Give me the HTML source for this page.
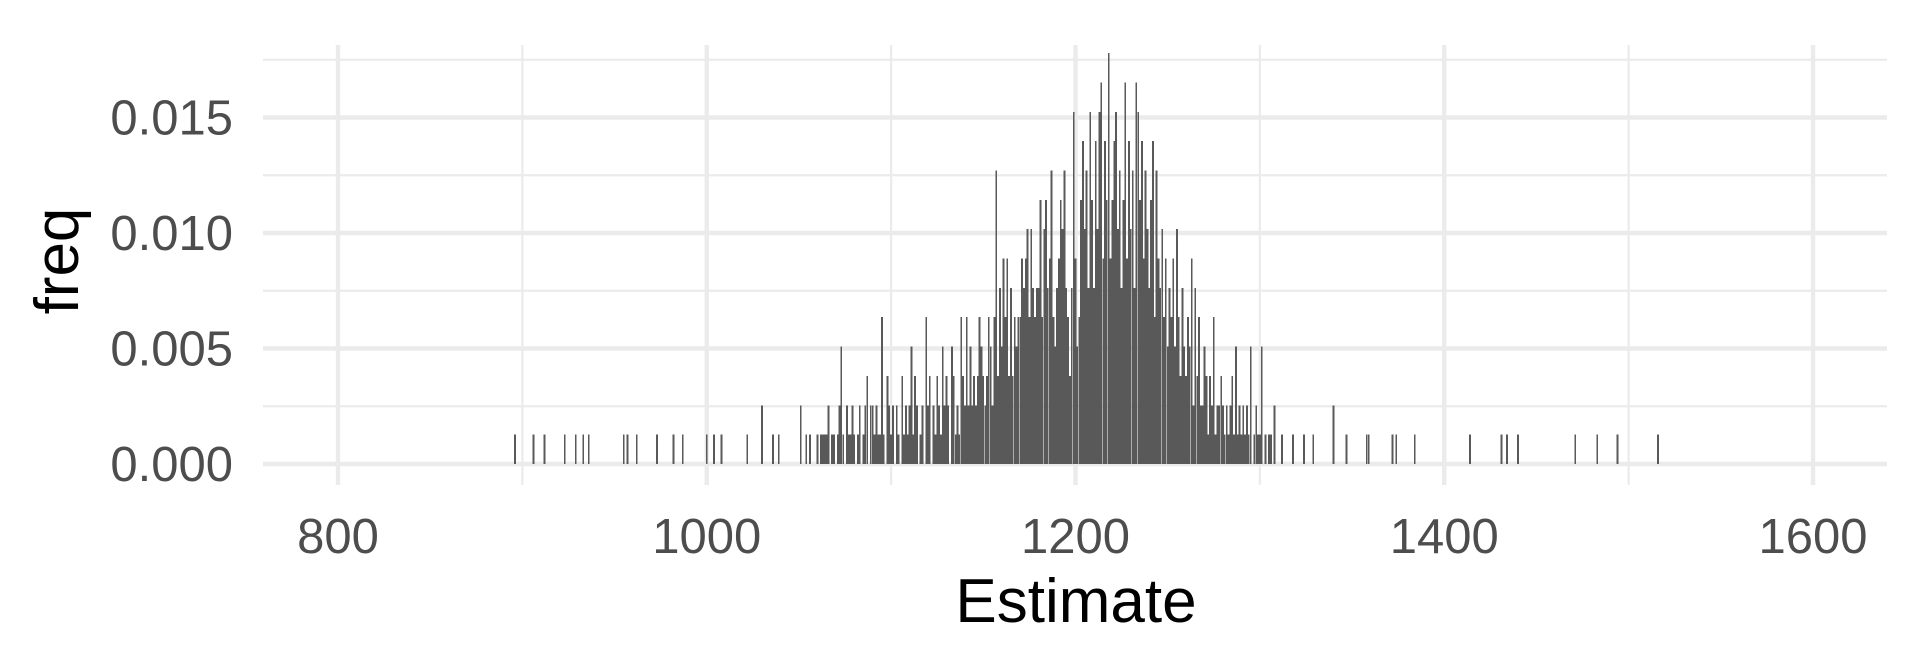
<!DOCTYPE html>
<html><head><meta charset="utf-8"><style>
html,body{margin:0;padding:0;background:#fff}
svg{display:block}
text{font-family:"Liberation Sans",Arial,sans-serif}
</style></head><body>
<svg id="chart" width="1920" height="672" xmlns="http://www.w3.org/2000/svg">
<g id="grid"></g>
<g id="bars" shape-rendering="crispEdges"></g>
<g id="axes"></g>
<text x="1076" y="622" text-anchor="middle" font-size="62" fill="#000">Estimate</text>
<text transform="translate(78,261) rotate(-90)" text-anchor="middle" font-size="62" fill="#000">freq</text>
</svg>
<script>
const N = 787;
const centerStart = 1060;
const centerCounts = "1011112011"+"0124102112"+"1012012302"+"2121151032"+"1202103121"+"2413201205"+"2302132142"+"3204312153"+"2524232354"+"3235425a36"+"4757363545"+"5767858656"+"6958967a54"+"6798a6536c"+"7459b8a6c9"+"6b8cd7b9e7"+"9bc8a69d7b"+"8a6dc9b7a8"+"69b5a76857"+"4657485364"+"3547263522"+"4313251223"+"2121231412"+"1212140121"+"1401011020";
const tailValues = [896,906,912,923,929,933,936,955,957,962,973,982,987,1000,1004,1008,1022,1030,1036,1039,1051,1054,1056,1312,1318,1324,1329,1340,1347,1358,1359,1372,1374,1384,1414,1431,1434,1440,1471,1483,1494,1516];
const tailCounts = [1,1,1,1,1,1,1,1,1,1,1,1,1,1,1,1,1,2,1,1,2,1,1,1,1,1,1,2,1,1,1,1,1,1,1,1,1,1,1,1,1,1];
const xTicks = [800,1000,1200,1400,1600];
const xMinor = [900,1100,1300,1500];
const yTicks = [0,0.005,0.010,0.015];
const yTickLabels = ["0.000","0.005","0.010","0.015"];
const yMinor = [0.0025,0.0075,0.0125,0.0175];

const NS="http://www.w3.org/2000/svg";
const X = v => 338 + (v-800)*1.84375;
const Y = f => 464 - f*23100;
const PL=263, PR=1887, PT=45, PB=485;
function mk(tag, attrs, parent){const e=document.createElementNS(NS,tag);for(const k in attrs)e.setAttribute(k,attrs[k]);parent.appendChild(e);return e;}
const grid=document.getElementById('grid'), bars=document.getElementById('bars'), axes=document.getElementById('axes');
yMinor.forEach(v=>{const l=mk('line',{x1:PL,x2:PR,y1:Y(v),y2:Y(v),stroke:'#ebebeb','stroke-width':2.2},grid);

});
xMinor.forEach(v=>{const l=mk('line',{x1:X(v),x2:X(v),y1:PT,y2:PB,stroke:'#ebebeb','stroke-width':2.2},grid);

});
yTicks.forEach((v,i)=>{const l=mk('line',{x1:PL,x2:PR,y1:Y(v),y2:Y(v),stroke:'#ebebeb','stroke-width':4.4},grid);


const t=mk('text',{x:233,y:Y(v)+17,'text-anchor':'end','font-size':49,fill:'#4d4d4d'},axes);t.textContent=yTickLabels[i];

});
xTicks.forEach(v=>{const l=mk('line',{x1:X(v),x2:X(v),y1:PT,y2:PB,stroke:'#ebebeb','stroke-width':4.4},grid);


const t=mk('text',{x:X(v),y:553,'text-anchor':'middle','font-size':49,fill:'#4d4d4d'},axes);t.textContent=String(v);

});
function bar(v,c){if(!c)return;const f=c/N;const r=mk('rect',{x:X(v)-0.9,y:Y(f),width:1.8,height:Y(0)-Y(f),fill:'#595959'},bars);

}
for(let i=0;i<centerCounts.length;i++)bar(centerStart+i,parseInt(centerCounts[i],36));
tailValues.forEach((v,i)=>bar(v,tailCounts[i]));
</script>
</body></html>
